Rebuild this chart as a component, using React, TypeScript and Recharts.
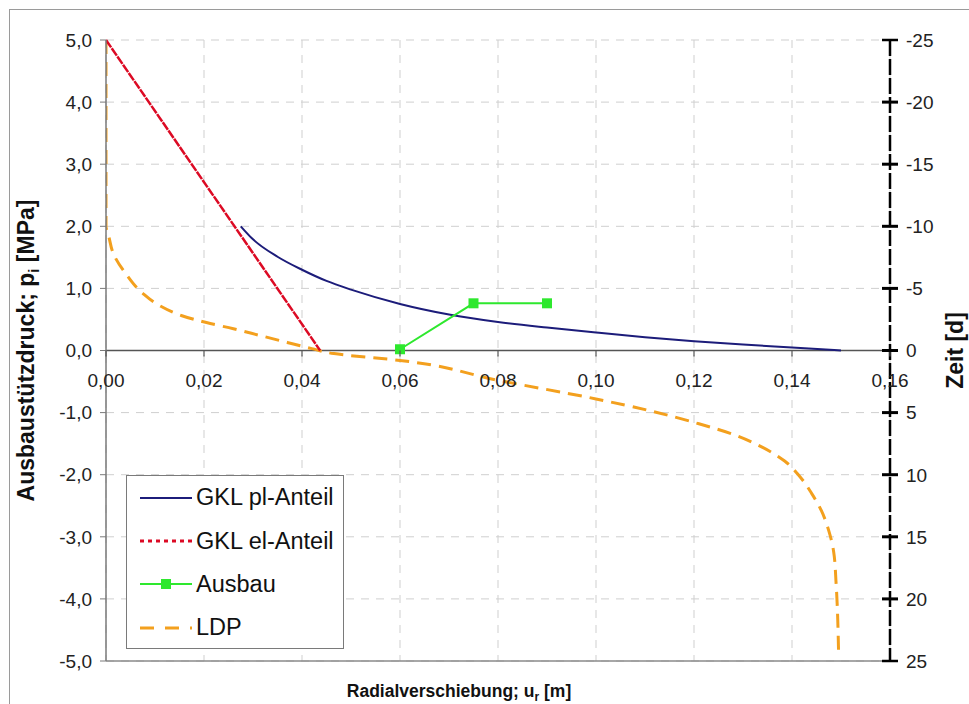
import { ComposedChart, Line, XAxis, YAxis, CartesianGrid, ReferenceLine, Legend, Label } from 'recharts'

const W = 969
const H = 704
const PLOT_TOP = 40
const PLOT_BOTTOM = 661
const MID_Y = (PLOT_TOP + PLOT_BOTTOM) / 2
const FONT = "'Liberation Sans', Arial, sans-serif"

// axis ticks
const xTicks = [0, 0.02, 0.04, 0.06, 0.08, 0.1, 0.12, 0.14, 0.16]
const pTicks = [-5, -4, -3, -2, -1, 0, 1, 2, 3, 4, 5]
const tTicks = [-25, -20, -15, -10, -5, 0, 5, 10, 15, 20, 25]

// GKL pl-Anteil (u [m], p [MPa])
const plU = [0.0275, 0.03, 0.035, 0.04, 0.045, 0.05, 0.06, 0.07, 0.08, 0.09, 0.1, 0.11, 0.12, 0.13, 0.14, 0.15]
const plP = [2.0, 1.79, 1.51, 1.3, 1.12, 0.98, 0.75, 0.58, 0.46, 0.37, 0.29, 0.215, 0.15, 0.095, 0.05, 0.0]

// GKL el-Anteil
const elU = [0, 0.0437]
const elP = [5.0, 0.0]

// Ausbau
const ausU = [0.06, 0.075, 0.09]
const ausP = [0.02, 0.76, 0.76]

// LDP (u [m], Zeit [d])
const ldpU = [0, 0, 0.0005, 0.0015, 0.004, 0.0075, 0.011, 0.0155, 0.0205, 0.026, 0.0315, 0.037, 0.042, 0.0465, 0.06, 0.08, 0.1, 0.111, 0.121, 0.128, 0.134, 0.1385, 0.1415, 0.144, 0.146, 0.1475, 0.1485, 0.149, 0.1495]
const ldpT = [-25, -10, -9.3, -7.8, -6.2, -4.6, -3.6, -2.8, -2.25, -1.75, -1.2, -0.65, -0.15, 0.25, 0.8, 2.4, 3.9, 4.85, 5.9, 6.75, 7.8, 8.9, 10.1, 11.5, 12.9, 14.5, 16.2, 18.75, 24.2]

const toPoints = (xs: number[], ys: number[]) => xs.map((x, i) => ({ x, y: ys[i] }))

const plData = toPoints(plU, plP)
const elData = toPoints(elU, elP)
const ausData = toPoints(ausU, ausP)
const ldpData = toPoints(ldpU, ldpT)

const NAVY = '#1c1c7a'
const RED = '#dc0a24'
const GREEN = '#2ee82e'
const ORANGE = '#f3a01e'

const legendItems = [
  { name: 'GKL pl-Anteil', color: NAVY, dash: undefined, width: 2, marker: false },
  { name: 'GKL el-Anteil', color: RED, dash: '4 4', width: 3, marker: false },
  { name: 'Ausbau', color: GREEN, dash: undefined, width: 2, marker: true },
  { name: 'LDP', color: ORANGE, dash: '14 11', width: 3, marker: false },
]

const fmt = (v: number, d: number) => v.toFixed(d).replace('.', ',')

function XTick({ x, payload }: any) {
  return (
    <g>
      <line x1={x} x2={x} y1={MID_Y} y2={MID_Y + 6} stroke="#555" strokeWidth={1.2} />
      <text x={x} y={MID_Y + 36} textAnchor="middle" fontSize={19} fontFamily={FONT} fill="#222">
        {fmt(payload.value, 2)}
      </text>
    </g>
  )
}

function RightTick({ x, y, payload }: any) {
  const end = payload.value === -25 || payload.value === 25
  return (
    <g>
      <line x1={x - 8} x2={x + 8} y1={y} y2={y} stroke="#000" strokeWidth={end ? 2.5 : 3} />
      <text x={x + 16} y={y} dy="0.36em" textAnchor="start" fontSize={19} fontFamily={FONT} fill="#222">
        {payload.value}
      </text>
    </g>
  )
}

function SquareDot({ cx, cy, index }: any) {
  return <rect key={index} x={cx - 5} y={cy - 5} width={10} height={10} fill={GREEN} />
}

function LegendBox() {
  return (
    <div
      style={{
        width: 218,
        height: 174,
        border: '1.5px solid #7a7a7a',
        background: '#fff',
        boxSizing: 'border-box',
        fontFamily: FONT,
        fontSize: 23.5,
        color: '#111',
      }}
    >
      {legendItems.map((it) => (
        <div key={it.name} style={{ display: 'flex', alignItems: 'center', height: 43.4 }}>
          <svg width={58} height={20} style={{ marginLeft: 11, marginRight: 0 }}>
            <line x1={2} x2={54} y1={10} y2={10} stroke={it.color} strokeWidth={it.width} strokeDasharray={it.dash} />
            {it.marker && <rect x={23} y={5} width={10} height={10} fill={GREEN} />}
          </svg>
          <span>{it.name}</span>
        </div>
      ))}
    </div>
  )
}

function LeftTitle({ viewBox }: any) {
  const cx = viewBox.x + 34
  const cy = viewBox.y + viewBox.height / 2
  return (
    <text
      x={cx}
      y={cy}
      transform={`rotate(-90, ${cx}, ${cy})`}
      textAnchor="middle"
      fontSize={23}
      fontWeight="bold"
      fontFamily={FONT}
      fill="#111"
    >
      Ausbaustützdruck; p<tspan fontSize={15} dy={5}>i</tspan>
      <tspan dy={-5}> [MPa]</tspan>
    </text>
  )
}

function RightTitle({ viewBox }: any) {
  const cx = viewBox.x + 73
  const cy = viewBox.y + viewBox.height / 2
  return (
    <text
      x={cx}
      y={cy}
      transform={`rotate(-90, ${cx}, ${cy})`}
      textAnchor="middle"
      fontSize={23}
      fontWeight="bold"
      fontFamily={FONT}
      fill="#111"
    >
      Zeit [d]
    </text>
  )
}

function BottomTitle({ viewBox }: any) {
  const cx = viewBox.x + viewBox.width / 2 - 39
  return (
    <text x={cx} y={H - 7} textAnchor="middle" fontSize={17.5} fontWeight="bold" fontFamily={FONT} fill="#111">
      Radialverschiebung; u<tspan fontSize={12} dy={4}>r</tspan>
      <tspan dy={-4}> [m]</tspan>
    </text>
  )
}

export default function App() {
  return (
    <div style={{ position: 'relative', width: W, height: H, background: '#fff', overflow: 'hidden' }}>
      <style>{'body{margin:0;overflow:hidden;}'}</style>
      <div
        style={{
          position: 'absolute',
          left: 9,
          top: 9,
          width: 980,
          height: 720,
          borderTop: '1.5px solid #9a9a9a',
          borderLeft: '1.5px solid #9a9a9a',
        }}
      />
      <div style={{ position: 'absolute', left: 0, top: 0 }}>
        <ComposedChart width={W} height={H} margin={{ top: PLOT_TOP, right: 0, bottom: 0, left: 0 }}>
          <CartesianGrid stroke="#cfcfcf" strokeDasharray="8 7" />
          <XAxis
            type="number"
            dataKey="x"
            domain={[0, 0.16]}
            ticks={xTicks}
            interval={0}
            height={H - PLOT_BOTTOM}
            axisLine={{ stroke: '#8a8a8a', strokeWidth: 1.5 }}
            tickLine={false}
            tick={<XTick />}
            allowDataOverflow
          >
            <Label content={<BottomTitle />} />
          </XAxis>
          <XAxis
            xAxisId="top"
            orientation="top"
            type="number"
            domain={[0, 0.16]}
            height={0}
            tick={false}
            tickLine={false}
            axisLine={{ stroke: '#8a8a8a', strokeWidth: 1.5 }}
          />
          <YAxis
            type="number"
            domain={[-5, 5]}
            ticks={pTicks}
            interval={0}
            width={106}
            axisLine={{ stroke: '#7a7a7a', strokeWidth: 1.5 }}
            tickLine={{ stroke: '#7a7a7a' }}
            tickSize={6}
            tickMargin={8}
            tickFormatter={(v: number) => fmt(v, 1)}
            tick={{ fontSize: 19, fontFamily: FONT, fill: '#222' }}
          >
            <Label content={<LeftTitle />} />
          </YAxis>
          <YAxis
            yAxisId="right"
            orientation="right"
            type="number"
            domain={[-25, 25]}
            reversed
            ticks={tTicks}
            interval={0}
            width={W - 890}
            axisLine={{ stroke: '#000', strokeWidth: 2.5, strokeDasharray: '16 3' }}
            tickLine={false}
            tickSize={0}
            tickMargin={0}
            tick={<RightTick />}
          >
            <Label content={<RightTitle />} />
          </YAxis>
          <ReferenceLine y={0} stroke="#555" strokeWidth={1.5} />
          <Line
            data={plData}
            dataKey="y"
            type="monotone"
            stroke={NAVY}
            strokeWidth={2}
            dot={false}
            activeDot={false}
            isAnimationActive={false}
          />
          <Line
            data={ldpData}
            dataKey="y"
            yAxisId="right"
            type="monotoneY"
            stroke={ORANGE}
            strokeWidth={3}
            strokeDasharray="14 8"
            dot={false}
            activeDot={false}
            isAnimationActive={false}
          />
          <Line
            data={elData}
            dataKey="y"
            type="linear"
            stroke={RED}
            strokeWidth={2.5}
            strokeDasharray="9 1"
            dot={false}
            activeDot={false}
            isAnimationActive={false}
          />
          <Line
            data={ausData}
            dataKey="y"
            type="linear"
            stroke={GREEN}
            strokeWidth={2}
            dot={<SquareDot />}
            activeDot={false}
            isAnimationActive={false}
          />
          <Legend
            layout="vertical"
            align="center"
            verticalAlign="middle"
            content={<LegendBox />}
            wrapperStyle={{ left: 126, top: 475, width: 218, height: 174 }}
          />
        </ComposedChart>
      </div>
    </div>
  )
}
